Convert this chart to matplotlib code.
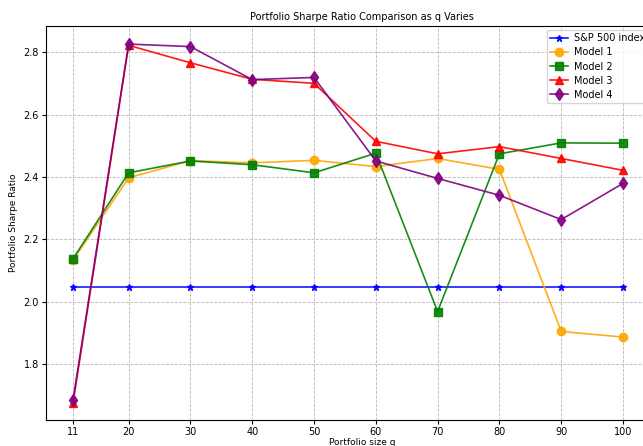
import matplotlib
matplotlib.use("Agg")
import matplotlib.pyplot as plt

Q = [11, 20, 30, 40, 50, 60, 70, 80, 90, 100]
SP500 = [2.048] * 10
MODEL1 = [2.133, 2.397, 2.452, 2.445, 2.453, 2.433, 2.459, 2.424, 1.904, 1.886]
MODEL2 = [2.137, 2.413, 2.451, 2.439, 2.413, 2.476, 1.968, 2.474, 2.509, 2.508]
MODEL3 = [1.674, 2.822, 2.766, 2.713, 2.700, 2.514, 2.474, 2.497, 2.459, 2.421]
MODEL4 = [1.684, 2.826, 2.818, 2.712, 2.719, 2.451, 2.395, 2.341, 2.263, 2.379]

W, H = 643, 446
fig = plt.figure(figsize=(W / 100, H / 100), dpi=100)
# axes runs past the right edge of the canvas, as in the (cropped) reference
ax = fig.add_axes([46 / W, 26 / H, 632 / W, 394 / H])

series = [
    ("S&P 500 index", SP500, "blue", "*", 5),
    ("Model 1", MODEL1, "orange", "o", 6),
    ("Model 2", MODEL2, "green", "s", 6),
    ("Model 3", MODEL3, "red", "^", 6),
    ("Model 4", MODEL4, "purple", "d", 6),
]
for name, vals, col, mk, ms in series:
    ax.plot(Q, vals, color=col, marker=mk, markersize=ms, linewidth=1.2,
            alpha=0.9, label=name)

ax.set_xticks(Q)
ax.set_xlim(6.63, 108.9)
ax.set_ylim(1.62, 2.884)
ax.tick_params(labelsize=7, length=3, pad=2)
ax.grid(True, linestyle="--", color="#b8b8b8", linewidth=0.6)
ax.set_title("Portfolio Sharpe Ratio Comparison as q Varies", fontsize=7, pad=4)
ax.set_xlabel("Portfolio size q", fontsize=6.5, labelpad=1)
ax.set_ylabel("Portfolio Sharpe Ratio", fontsize=6.5)
ax.legend(loc="upper left", bbox_to_anchor=(547 / W, 1 - 30 / H),
          bbox_transform=fig.transFigure, fontsize=7, borderaxespad=0,
          borderpad=0.35, handlelength=1.8, handletextpad=0.6,
          labelspacing=0.42)

fig.savefig("out.png", dpi=100)
